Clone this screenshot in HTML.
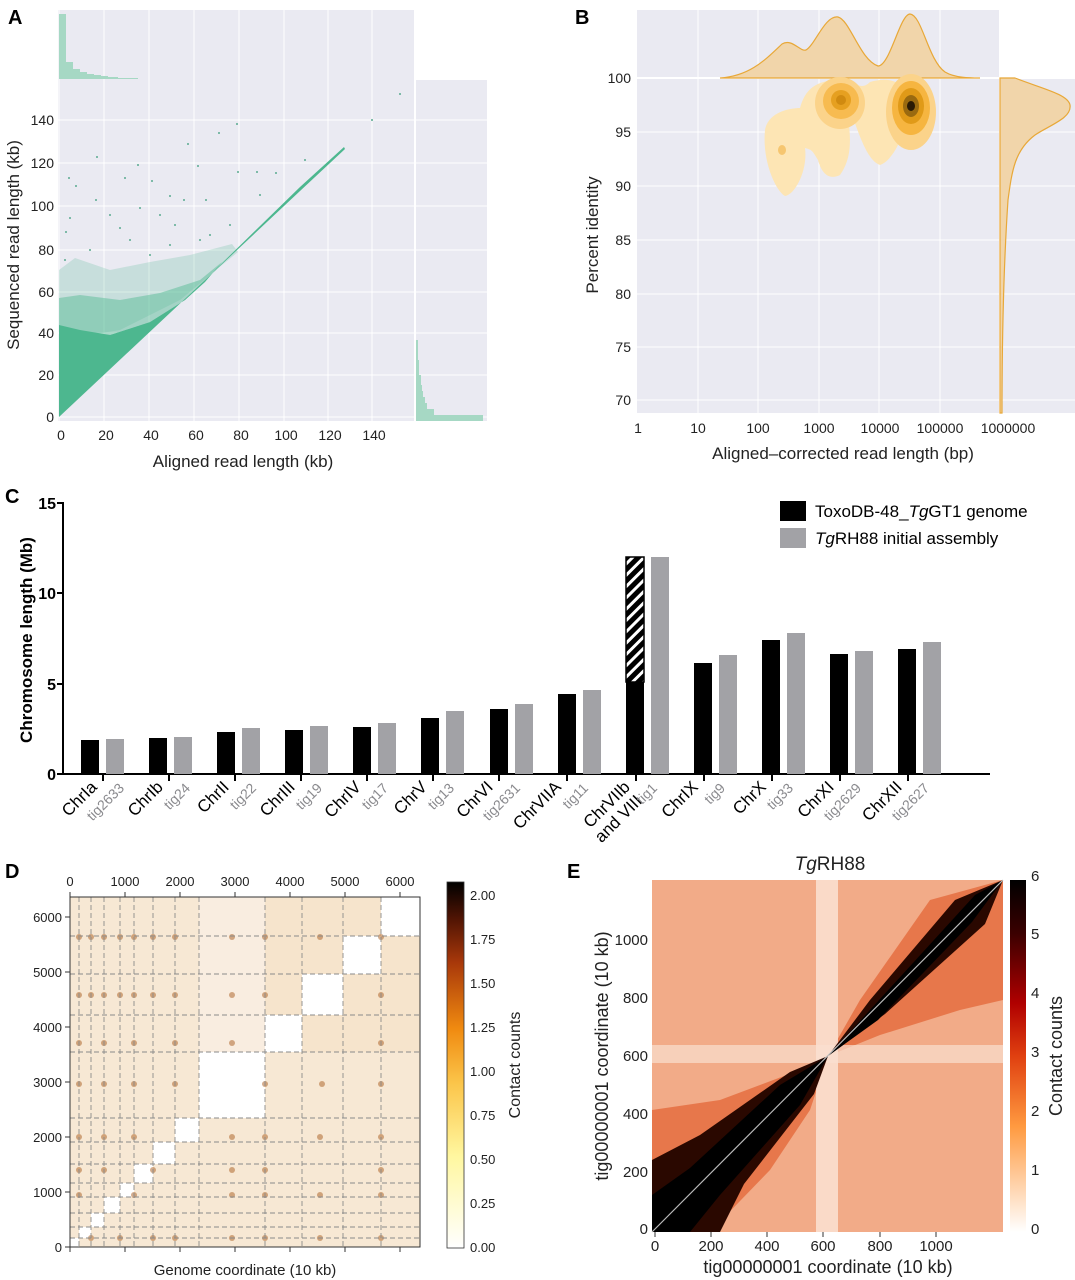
<!DOCTYPE html>
<html><head><meta charset="utf-8"><style>
html,body{margin:0;padding:0;background:#fff}
svg{display:block;font-family:"Liberation Sans",Arial,sans-serif}
</style></head><body>
<svg width="1075" height="1280" viewBox="0 0 1075 1280" xmlns="http://www.w3.org/2000/svg">
<defs>
<linearGradient id="cbD" x1="0" y1="1" x2="0" y2="0">
<stop offset="0" stop-color="#ffffff"/><stop offset="0.25" stop-color="#fff7a0"/><stop offset="0.45" stop-color="#fbc54a"/><stop offset="0.6" stop-color="#f08a10"/><stop offset="0.78" stop-color="#a8380a"/><stop offset="0.9" stop-color="#501404"/><stop offset="1" stop-color="#000"/>
</linearGradient>
<linearGradient id="cbE" x1="0" y1="1" x2="0" y2="0">
<stop offset="0" stop-color="#ffffff"/><stop offset="0.3" stop-color="#ff9a40"/><stop offset="0.5" stop-color="#e04010"/><stop offset="0.65" stop-color="#b00000"/><stop offset="0.85" stop-color="#3a0000"/><stop offset="1" stop-color="#000"/>
</linearGradient>
<pattern id="hatch" width="8" height="8" patternUnits="userSpaceOnUse" patternTransform="rotate(45)">
<rect width="8" height="8" fill="#000"/><rect x="0" width="3" height="8" fill="#fff"/>
</pattern>
</defs>

<!-- ============ PANEL A ============ -->
<text x="8" y="24" font-size="20" font-weight="bold">A</text>
<rect x="58" y="10" width="357" height="69" fill="#eaeaf2"/>
<rect x="58" y="79" width="357" height="342" fill="#eaeaf2"/>
<rect x="415" y="79" width="72" height="342" fill="#eaeaf2"/>
<g stroke="#fff" stroke-width="1">
<line x1="59" y1="10" x2="59" y2="421"/><line x1="104" y1="10" x2="104" y2="421"/><line x1="149" y1="10" x2="149" y2="421"/><line x1="194" y1="10" x2="194" y2="421"/><line x1="239" y1="10" x2="239" y2="421"/><line x1="284" y1="10" x2="284" y2="421"/><line x1="328" y1="10" x2="328" y2="421"/><line x1="372" y1="10" x2="372" y2="421"/>
<line x1="58" y1="417" x2="487" y2="417"/><line x1="58" y1="375" x2="487" y2="375"/><line x1="58" y1="333" x2="487" y2="333"/><line x1="58" y1="292" x2="487" y2="292"/><line x1="58" y1="250" x2="487" y2="250"/><line x1="58" y1="206" x2="487" y2="206"/><line x1="58" y1="163" x2="487" y2="163"/><line x1="58" y1="120" x2="487" y2="120"/>
<line x1="415" y1="79" x2="487" y2="79" stroke-width="2"/><line x1="415" y1="10" x2="415" y2="421" stroke-width="2"/>
</g>
<g fill="#a6d8c4">
<rect x="59" y="14" width="7" height="65"/><rect x="66" y="62" width="7" height="17"/><rect x="73" y="69" width="7" height="10"/><rect x="80" y="72" width="7" height="7"/><rect x="87" y="74" width="7" height="5"/><rect x="94" y="75" width="7" height="4"/><rect x="101" y="76" width="7" height="3"/><rect x="108" y="77" width="10" height="2"/><rect x="118" y="78" width="20" height="1"/>
</g>
<g fill="#a6d8c4">
<rect x="416" y="415" width="67" height="6"/><rect x="416" y="409" width="18" height="6"/><rect x="416" y="403" width="11" height="6"/><rect x="416" y="397" width="9" height="6"/><rect x="416" y="391" width="7" height="6"/><rect x="416" y="385" width="6" height="6"/><rect x="416" y="375" width="5" height="10"/><rect x="416" y="360" width="3" height="15"/><rect x="416" y="340" width="2" height="20"/>
</g>
<!-- scatter halo -->
<polygon fill="#4db78f" opacity="0.22" points="59,340 59,270 75,258 110,270 150,262 190,255 232,244 238,252 216,270 180,300 120,330"/>
<polygon fill="#4db78f" opacity="0.45" points="59,340 59,298 80,295 120,300 160,293 200,280 222,262 216,270 185,300 150,322 110,335"/>
<!-- solid -->
<polygon fill="#4db78f" points="59,417 59,325 80,330 110,335 150,322 185,300 205,282 216,269 300,187 344,147 345,149 300,191 59,417"/>
<g fill="#5aaa90">
<circle cx="400" cy="94" r="1"/><circle cx="372" cy="120" r="1"/><circle cx="237" cy="124" r="1"/><circle cx="219" cy="133" r="1"/><circle cx="188" cy="144" r="1"/><circle cx="97" cy="157" r="1"/><circle cx="138" cy="165" r="1"/><circle cx="198" cy="166" r="1"/><circle cx="238" cy="172" r="1"/><circle cx="257" cy="172" r="1"/><circle cx="69" cy="178" r="1"/><circle cx="125" cy="178" r="1"/><circle cx="152" cy="181" r="1"/><circle cx="76" cy="186" r="1"/><circle cx="96" cy="200" r="1"/><circle cx="140" cy="208" r="1"/><circle cx="170" cy="196" r="1"/><circle cx="206" cy="200" r="1"/><circle cx="184" cy="200" r="1"/><circle cx="70" cy="218" r="1"/><circle cx="120" cy="228" r="1"/><circle cx="160" cy="215" r="1"/><circle cx="66" cy="232" r="1"/><circle cx="110" cy="215" r="1"/><circle cx="175" cy="225" r="1"/><circle cx="260" cy="195" r="1"/><circle cx="305" cy="160" r="1"/><circle cx="276" cy="173" r="1"/>
<circle cx="90" cy="250" r="1"/><circle cx="130" cy="240" r="1"/><circle cx="170" cy="245" r="1"/><circle cx="210" cy="235" r="1"/><circle cx="230" cy="225" r="1"/><circle cx="65" cy="260" r="1"/><circle cx="150" cy="255" r="1"/><circle cx="200" cy="240" r="1"/>
</g>
<g font-size="14" fill="#222" text-anchor="middle">
<text x="61" y="440">0</text><text x="106" y="440">20</text><text x="151" y="440">40</text><text x="196" y="440">60</text><text x="241" y="440">80</text><text x="286" y="440">100</text><text x="330" y="440">120</text><text x="374" y="440">140</text>
</g>
<g font-size="14" fill="#222" text-anchor="end">
<text x="54" y="422">0</text><text x="54" y="380">20</text><text x="54" y="338">40</text><text x="54" y="297">60</text><text x="54" y="255">80</text><text x="54" y="211">100</text><text x="54" y="168">120</text><text x="54" y="125">140</text>
</g>
<text x="243" y="467" font-size="17" text-anchor="middle" fill="#222">Aligned read length (kb)</text>
<text transform="translate(19,245) rotate(-90)" font-size="17" text-anchor="middle" fill="#222">Sequenced read length (kb)</text>

<!-- ============ PANEL B ============ -->
<text x="575" y="24" font-size="20" font-weight="bold">B</text>
<rect x="637" y="10" width="363" height="68" fill="#eaeaf2"/>
<rect x="637" y="78" width="363" height="335" fill="#eaeaf2"/>
<rect x="1000" y="78" width="75" height="335" fill="#eaeaf2"/>
<g stroke="#fff" stroke-width="1">
<line x1="698" y1="10" x2="698" y2="413"/><line x1="758" y1="10" x2="758" y2="413"/><line x1="819" y1="10" x2="819" y2="413"/><line x1="879" y1="10" x2="879" y2="413"/><line x1="940" y1="10" x2="940" y2="413"/>
<line x1="637" y1="132" x2="1075" y2="132"/><line x1="637" y1="186" x2="1075" y2="186"/><line x1="637" y1="240" x2="1075" y2="240"/><line x1="637" y1="294" x2="1075" y2="294"/><line x1="637" y1="347" x2="1075" y2="347"/><line x1="637" y1="400" x2="1075" y2="400"/>
<line x1="637" y1="78" x2="1075" y2="78" stroke-width="2"/><line x1="1000" y1="10" x2="1000" y2="413" stroke-width="2"/>
</g>
<path d="M720,78 C750,76 765,60 782,44 C792,38 800,52 806,50 C815,45 825,15 838,17 C850,20 860,60 878,66 C890,66 900,14 910,14 C922,15 928,60 945,72 C955,78 970,78 980,78 Z" fill="#f1d5aa" stroke="#e8a838" stroke-width="1.2"/>
<path d="M1015,78 C1040,88 1068,94 1070,105 C1072,118 1050,125 1035,135 C1015,150 1012,170 1008,200 C1004,260 1002,330 1002,413 L1000,413 L1000,78 Z" fill="#f1d5aa" stroke="#e8a838" stroke-width="1.2"/>
<path d="M765,130 C768,112 790,108 800,108 C805,90 815,80 840,80 C855,80 860,92 870,82 C890,76 905,82 908,100 C910,125 895,160 880,165 C866,160 858,130 850,110 C845,120 858,150 840,175 C830,180 822,175 818,160 C812,150 812,150 805,148 C808,170 795,195 785,196 C775,190 762,160 765,130 Z" fill="#fde5b4"/>
<ellipse cx="840" cy="103" rx="25" ry="26" fill="#fbd38a"/>
<ellipse cx="841" cy="101" rx="18" ry="18" fill="#f7bb50"/>
<ellipse cx="841" cy="100" rx="10" ry="10" fill="#e6a020"/>
<ellipse cx="841" cy="100" rx="5" ry="5" fill="#d08a10"/>
<ellipse cx="911" cy="112" rx="25" ry="38" fill="#fbd38a"/>
<ellipse cx="911" cy="108" rx="19" ry="27" fill="#f6b540"/>
<ellipse cx="911" cy="106" rx="13" ry="18" fill="#e09a18"/>
<ellipse cx="911" cy="106" rx="8" ry="11" fill="#9a6a10"/>
<ellipse cx="911" cy="106" rx="4" ry="5" fill="#2a1a04"/>
<ellipse cx="782" cy="150" rx="4" ry="5" fill="#f6c670"/>
<g font-size="14" fill="#222" text-anchor="end">
<text x="631" y="83">100</text><text x="631" y="137">95</text><text x="631" y="191">90</text><text x="631" y="245">85</text><text x="631" y="299">80</text><text x="631" y="352">75</text><text x="631" y="405">70</text>
</g>
<g font-size="14" fill="#222" text-anchor="middle">
<text x="638" y="433">1</text><text x="698" y="433">10</text><text x="758" y="433">100</text><text x="819" y="433">1000</text><text x="880" y="433">10000</text><text x="940" y="433">100000</text><text x="1008" y="433">1000000</text>
</g>
<text x="843" y="459" font-size="17" text-anchor="middle" fill="#222">Aligned–corrected read length (bp)</text>
<text transform="translate(598,235) rotate(-90)" font-size="17" text-anchor="middle" fill="#222">Percent identity</text>

<!-- ============ PANEL C ============ -->
<text x="5" y="503" font-size="20" font-weight="bold">C</text>
<line x1="63" y1="502" x2="63" y2="775" stroke="#000" stroke-width="2"/>
<line x1="63" y1="774" x2="990" y2="774" stroke="#000" stroke-width="2"/>
<g stroke="#000" stroke-width="2">
<line x1="57" y1="503" x2="63" y2="503"/><line x1="57" y1="593" x2="63" y2="593"/><line x1="57" y1="684" x2="63" y2="684"/><line x1="57" y1="774" x2="63" y2="774"/>
</g>
<g font-size="16" font-weight="bold" text-anchor="end">
<text x="56" y="509">15</text><text x="56" y="599">10</text><text x="56" y="690">5</text><text x="56" y="780">0</text>
</g>
<text transform="translate(32,640) rotate(-90)" font-size="17" font-weight="bold" text-anchor="middle">Chromosome length (Mb)</text>
<g fill="#000">
<rect x="81" y="740" width="18" height="34"/><rect x="149" y="738" width="18" height="36"/><rect x="217" y="732" width="18" height="42"/><rect x="285" y="730" width="18" height="44"/><rect x="353" y="727" width="18" height="47"/><rect x="421" y="718" width="18" height="56"/><rect x="490" y="709" width="18" height="65"/><rect x="558" y="694" width="18" height="80"/><rect x="626" y="682" width="18" height="92"/><rect x="694" y="663" width="18" height="111"/><rect x="762" y="640" width="18" height="134"/><rect x="830" y="654" width="18" height="120"/><rect x="898" y="649" width="18" height="125"/>
</g>
<rect x="626" y="557" width="18" height="125" fill="url(#hatch)" stroke="#000" stroke-width="1.5"/>
<g fill="#a2a2a6">
<rect x="106" y="739" width="18" height="35"/><rect x="174" y="737" width="18" height="37"/><rect x="242" y="728" width="18" height="46"/><rect x="310" y="726" width="18" height="48"/><rect x="378" y="723" width="18" height="51"/><rect x="446" y="711" width="18" height="63"/><rect x="515" y="704" width="18" height="70"/><rect x="583" y="690" width="18" height="84"/><rect x="651" y="557" width="18" height="217"/><rect x="719" y="655" width="18" height="119"/><rect x="787" y="633" width="18" height="141"/><rect x="855" y="651" width="18" height="123"/><rect x="923" y="642" width="18" height="132"/>
</g>
<g stroke="#000" stroke-width="2">
<line x1="103" y1="774" x2="103" y2="781"/><line x1="169" y1="774" x2="169" y2="781"/><line x1="235" y1="774" x2="235" y2="781"/><line x1="301" y1="774" x2="301" y2="781"/><line x1="367" y1="774" x2="367" y2="781"/><line x1="433" y1="774" x2="433" y2="781"/><line x1="499" y1="774" x2="499" y2="781"/><line x1="567" y1="774" x2="567" y2="781"/><line x1="636" y1="774" x2="636" y2="781"/><line x1="704" y1="774" x2="704" y2="781"/><line x1="772" y1="774" x2="772" y2="781"/><line x1="840" y1="774" x2="840" y2="781"/><line x1="908" y1="774" x2="908" y2="781"/>
</g>
<g font-size="17" text-anchor="end" fill="#000">
<text transform="translate(98,788) rotate(-45)">ChrIa</text>
<text transform="translate(164,788) rotate(-45)">ChrIb</text>
<text transform="translate(230,788) rotate(-45)">ChrII</text>
<text transform="translate(296,788) rotate(-45)">ChrIII</text>
<text transform="translate(362,788) rotate(-45)">ChrIV</text>
<text transform="translate(428,788) rotate(-45)">ChrV</text>
<text transform="translate(494,788) rotate(-45)">ChrVI</text>
<text transform="translate(562,788) rotate(-45)">ChrVIIA</text>
<text transform="translate(631,788) rotate(-45)">ChrVIIb</text>
<text transform="translate(643,802) rotate(-45)">and VIII</text>
<text transform="translate(699,788) rotate(-45)">ChrIX</text>
<text transform="translate(767,788) rotate(-45)">ChrX</text>
<text transform="translate(835,788) rotate(-45)">ChrXI</text>
<text transform="translate(903,788) rotate(-45)">ChrXII</text>
</g>
<g font-size="14" text-anchor="end" fill="#8a8a8e">
<text transform="translate(125,789) rotate(-45)">tig2633</text>
<text transform="translate(191,789) rotate(-45)">tig24</text>
<text transform="translate(257,789) rotate(-45)">tig22</text>
<text transform="translate(323,789) rotate(-45)">tig19</text>
<text transform="translate(389,789) rotate(-45)">tig17</text>
<text transform="translate(455,789) rotate(-45)">tig13</text>
<text transform="translate(521,789) rotate(-45)">tig2631</text>
<text transform="translate(589,789) rotate(-45)">tig11</text>
<text transform="translate(658,789) rotate(-45)">tig1</text>
<text transform="translate(726,789) rotate(-45)">tig9</text>
<text transform="translate(794,789) rotate(-45)">tig33</text>
<text transform="translate(862,789) rotate(-45)">tig2629</text>
<text transform="translate(930,789) rotate(-45)">tig2627</text>
</g>
<rect x="780" y="501" width="26" height="20" fill="#000"/>
<rect x="780" y="528" width="26" height="20" fill="#a2a2a6"/>
<text x="815" y="517" font-size="17">ToxoDB-48_<tspan font-style="italic">Tg</tspan>GT1 genome</text>
<text x="815" y="544" font-size="17"><tspan font-style="italic">Tg</tspan>RH88 initial assembly</text>

<!-- ============ PANEL D ============ -->
<text x="5" y="878" font-size="20" font-weight="bold">D</text>
<rect x="70" y="897" width="350" height="350" fill="#f7e8d4"/>
<rect x="199" y="897" width="66" height="155" fill="#f9ede0"/>
<rect x="265" y="897" width="155" height="155" fill="#f6e4cc"/>
<g fill="#fff">
<rect x="70" y="1238" width="9" height="9"/><rect x="79" y="1227" width="12" height="11"/><rect x="91" y="1213" width="13" height="14"/><rect x="104" y="1197" width="16" height="16"/><rect x="120" y="1183" width="14" height="14"/><rect x="134" y="1164" width="19" height="19"/><rect x="153" y="1142" width="22" height="22"/><rect x="175" y="1118" width="24" height="24"/><rect x="199" y="1052" width="66" height="66"/><rect x="265" y="1015" width="37" height="37"/><rect x="302" y="974" width="41" height="41"/><rect x="343" y="936" width="38" height="38"/><rect x="381" y="897" width="39" height="39"/>
</g>
<g fill="#b06a30" opacity="0.55">
<circle cx="79" cy="937" r="3"/><circle cx="91" cy="937" r="3"/><circle cx="104" cy="937" r="3"/><circle cx="120" cy="937" r="3"/><circle cx="134" cy="937" r="3"/><circle cx="153" cy="937" r="3"/><circle cx="175" cy="937" r="3"/><circle cx="232" cy="937" r="3"/><circle cx="265" cy="937" r="3"/><circle cx="320" cy="937" r="3"/><circle cx="381" cy="937" r="3"/>
<circle cx="79" cy="995" r="3"/><circle cx="91" cy="995" r="3"/><circle cx="104" cy="995" r="3"/><circle cx="120" cy="995" r="3"/><circle cx="134" cy="995" r="3"/><circle cx="153" cy="995" r="3"/><circle cx="175" cy="995" r="3"/><circle cx="232" cy="995" r="3"/><circle cx="265" cy="995" r="3"/><circle cx="381" cy="995" r="3"/>
<circle cx="79" cy="1043" r="3"/><circle cx="104" cy="1043" r="3"/><circle cx="134" cy="1043" r="3"/><circle cx="175" cy="1043" r="3"/><circle cx="232" cy="1043" r="3"/><circle cx="381" cy="1043" r="3"/>
<circle cx="79" cy="1084" r="3"/><circle cx="104" cy="1084" r="3"/><circle cx="134" cy="1084" r="3"/><circle cx="175" cy="1084" r="3"/><circle cx="265" cy="1084" r="3"/><circle cx="322" cy="1084" r="3"/><circle cx="381" cy="1084" r="3"/>
<circle cx="79" cy="1137" r="3"/><circle cx="104" cy="1137" r="3"/><circle cx="134" cy="1137" r="3"/><circle cx="232" cy="1137" r="3"/><circle cx="265" cy="1137" r="3"/><circle cx="320" cy="1137" r="3"/><circle cx="381" cy="1137" r="3"/>
<circle cx="79" cy="1170" r="3"/><circle cx="104" cy="1170" r="3"/><circle cx="153" cy="1170" r="3"/><circle cx="232" cy="1170" r="3"/><circle cx="265" cy="1170" r="3"/><circle cx="381" cy="1170" r="3"/>
<circle cx="79" cy="1195" r="3"/><circle cx="134" cy="1195" r="3"/><circle cx="232" cy="1195" r="3"/><circle cx="265" cy="1195" r="3"/><circle cx="320" cy="1195" r="3"/><circle cx="381" cy="1195" r="3"/>
<circle cx="91" cy="1238" r="3"/><circle cx="120" cy="1238" r="3"/><circle cx="153" cy="1238" r="3"/><circle cx="175" cy="1238" r="3"/><circle cx="232" cy="1238" r="3"/><circle cx="265" cy="1238" r="3"/><circle cx="320" cy="1238" r="3"/><circle cx="381" cy="1238" r="3"/>
</g>
<g stroke="#8a8a8a" stroke-width="0.9" stroke-dasharray="5,3" fill="none">
<line x1="79" y1="897" x2="79" y2="1247"/><line x1="91" y1="897" x2="91" y2="1247"/><line x1="104" y1="897" x2="104" y2="1247"/><line x1="120" y1="897" x2="120" y2="1247"/><line x1="134" y1="897" x2="134" y2="1247"/><line x1="153" y1="897" x2="153" y2="1247"/><line x1="175" y1="897" x2="175" y2="1247"/><line x1="199" y1="897" x2="199" y2="1247"/><line x1="265" y1="897" x2="265" y2="1247"/><line x1="302" y1="897" x2="302" y2="1247"/><line x1="343" y1="897" x2="343" y2="1247"/><line x1="381" y1="897" x2="381" y2="1247"/>
<line x1="70" y1="1238" x2="420" y2="1238"/><line x1="70" y1="1227" x2="420" y2="1227"/><line x1="70" y1="1213" x2="420" y2="1213"/><line x1="70" y1="1197" x2="420" y2="1197"/><line x1="70" y1="1183" x2="420" y2="1183"/><line x1="70" y1="1164" x2="420" y2="1164"/><line x1="70" y1="1142" x2="420" y2="1142"/><line x1="70" y1="1118" x2="420" y2="1118"/><line x1="70" y1="1052" x2="420" y2="1052"/><line x1="70" y1="1015" x2="420" y2="1015"/><line x1="70" y1="974" x2="420" y2="974"/><line x1="70" y1="936" x2="420" y2="936"/>
</g>
<rect x="70" y="897" width="350" height="350" fill="none" stroke="#333" stroke-width="1"/>
<g stroke="#333" stroke-width="1">
<line x1="70" y1="897" x2="70" y2="892"/><line x1="125" y1="897" x2="125" y2="892"/><line x1="180" y1="897" x2="180" y2="892"/><line x1="235" y1="897" x2="235" y2="892"/><line x1="290" y1="897" x2="290" y2="892"/><line x1="345" y1="897" x2="345" y2="892"/><line x1="400" y1="897" x2="400" y2="892"/>
<line x1="70" y1="1247" x2="70" y2="1252"/><line x1="125" y1="1247" x2="125" y2="1252"/><line x1="180" y1="1247" x2="180" y2="1252"/><line x1="235" y1="1247" x2="235" y2="1252"/><line x1="290" y1="1247" x2="290" y2="1252"/><line x1="345" y1="1247" x2="345" y2="1252"/><line x1="400" y1="1247" x2="400" y2="1252"/>
<line x1="65" y1="1247" x2="70" y2="1247"/><line x1="65" y1="1192" x2="70" y2="1192"/><line x1="65" y1="1137" x2="70" y2="1137"/><line x1="65" y1="1082" x2="70" y2="1082"/><line x1="65" y1="1027" x2="70" y2="1027"/><line x1="65" y1="972" x2="70" y2="972"/><line x1="65" y1="917" x2="70" y2="917"/>
</g>
<g font-size="13" fill="#222" text-anchor="middle">
<text x="70" y="886">0</text><text x="125" y="886">1000</text><text x="180" y="886">2000</text><text x="235" y="886">3000</text><text x="290" y="886">4000</text><text x="345" y="886">5000</text><text x="400" y="886">6000</text>
</g>
<g font-size="13" fill="#222" text-anchor="end">
<text x="62" y="1252">0</text><text x="62" y="1197">1000</text><text x="62" y="1142">2000</text><text x="62" y="1087">3000</text><text x="62" y="1032">4000</text><text x="62" y="977">5000</text><text x="62" y="922">6000</text>
</g>
<text x="245" y="1275" font-size="15" text-anchor="middle" fill="#222">Genome coordinate (10 kb)</text>
<rect x="447" y="882" width="17" height="366" fill="url(#cbD)" stroke="#333" stroke-width="0.8"/>
<g font-size="13" fill="#222">
<text x="470" y="1252">0.00</text><text x="470" y="1208">0.25</text><text x="470" y="1164">0.50</text><text x="470" y="1120">0.75</text><text x="470" y="1076">1.00</text><text x="470" y="1032">1.25</text><text x="470" y="988">1.50</text><text x="470" y="944">1.75</text><text x="470" y="900">2.00</text>
</g>
<text transform="translate(520,1065) rotate(-90)" font-size="16" text-anchor="middle" fill="#222">Contact counts</text>

<!-- ============ PANEL E ============ -->
<text x="567" y="878" font-size="20" font-weight="bold">E</text>
<text x="830" y="870" font-size="19" text-anchor="middle" fill="#222"><tspan font-style="italic">Tg</tspan>RH88</text>
<rect x="652" y="880" width="351" height="352" fill="#f2ab88"/>
<polygon points="652,1232 652,1110 720,1100 800,1070 828,1056 860,1000 930,900 1003,880 1003,1000 960,1010 880,1035 828,1056 810,1110 770,1170 710,1232" fill="#e46a3c" opacity="0.8"/>
<rect x="816" y="880" width="22" height="352" fill="#fbe2d4" opacity="0.85"/>
<rect x="652" y="1045" width="351" height="18" fill="#fae0d0" opacity="0.7"/>
<polygon points="652,1232 652,1160 700,1135 790,1072 828,1056 870,1000 955,900 1003,880 1003,880 985,924 885,1014 828,1056 814,1094 744,1184 720,1232" fill="#2a0800"/>
<polygon points="652,1232 652,1195 690,1168 780,1085 828,1056 870,1010 975,895 1003,880 972,922 878,1020 828,1056 800,1105 720,1195 690,1232" fill="#000"/>
<line x1="652" y1="1232" x2="1003" y2="880" stroke="#bbb" stroke-width="1.2"/>
<g stroke="#333" stroke-width="1">
<line x1="655" y1="1232" x2="655" y2="1237"/><line x1="711" y1="1232" x2="711" y2="1237"/><line x1="767" y1="1232" x2="767" y2="1237"/><line x1="823" y1="1232" x2="823" y2="1237"/><line x1="880" y1="1232" x2="880" y2="1237"/><line x1="936" y1="1232" x2="936" y2="1237"/>
</g>
<g font-size="15" fill="#222" text-anchor="middle">
<text x="655" y="1251">0</text><text x="711" y="1251">200</text><text x="767" y="1251">400</text><text x="823" y="1251">600</text><text x="880" y="1251">800</text><text x="936" y="1251">1000</text>
</g>
<g font-size="15" fill="#222" text-anchor="end">
<text x="648" y="1234">0</text><text x="648" y="1177">200</text><text x="648" y="1119">400</text><text x="648" y="1061">600</text><text x="648" y="1003">800</text><text x="648" y="945">1000</text>
</g>
<text x="828" y="1273" font-size="18" text-anchor="middle" fill="#222">tig00000001 coordinate (10 kb)</text>
<text transform="translate(608,1056) rotate(-90)" font-size="18" text-anchor="middle" fill="#222">tig00000001 coordinate (10 kb)</text>
<rect x="1010" y="880" width="16" height="352" fill="url(#cbE)"/>
<g font-size="15" fill="#222">
<text x="1031" y="1234">0</text><text x="1031" y="1175">1</text><text x="1031" y="1116">2</text><text x="1031" y="1057">3</text><text x="1031" y="998">4</text><text x="1031" y="939">5</text><text x="1031" y="881">6</text>
</g>
<text transform="translate(1062,1056) rotate(-90)" font-size="18" text-anchor="middle" fill="#222">Contact counts</text>
</svg>
</body></html>
